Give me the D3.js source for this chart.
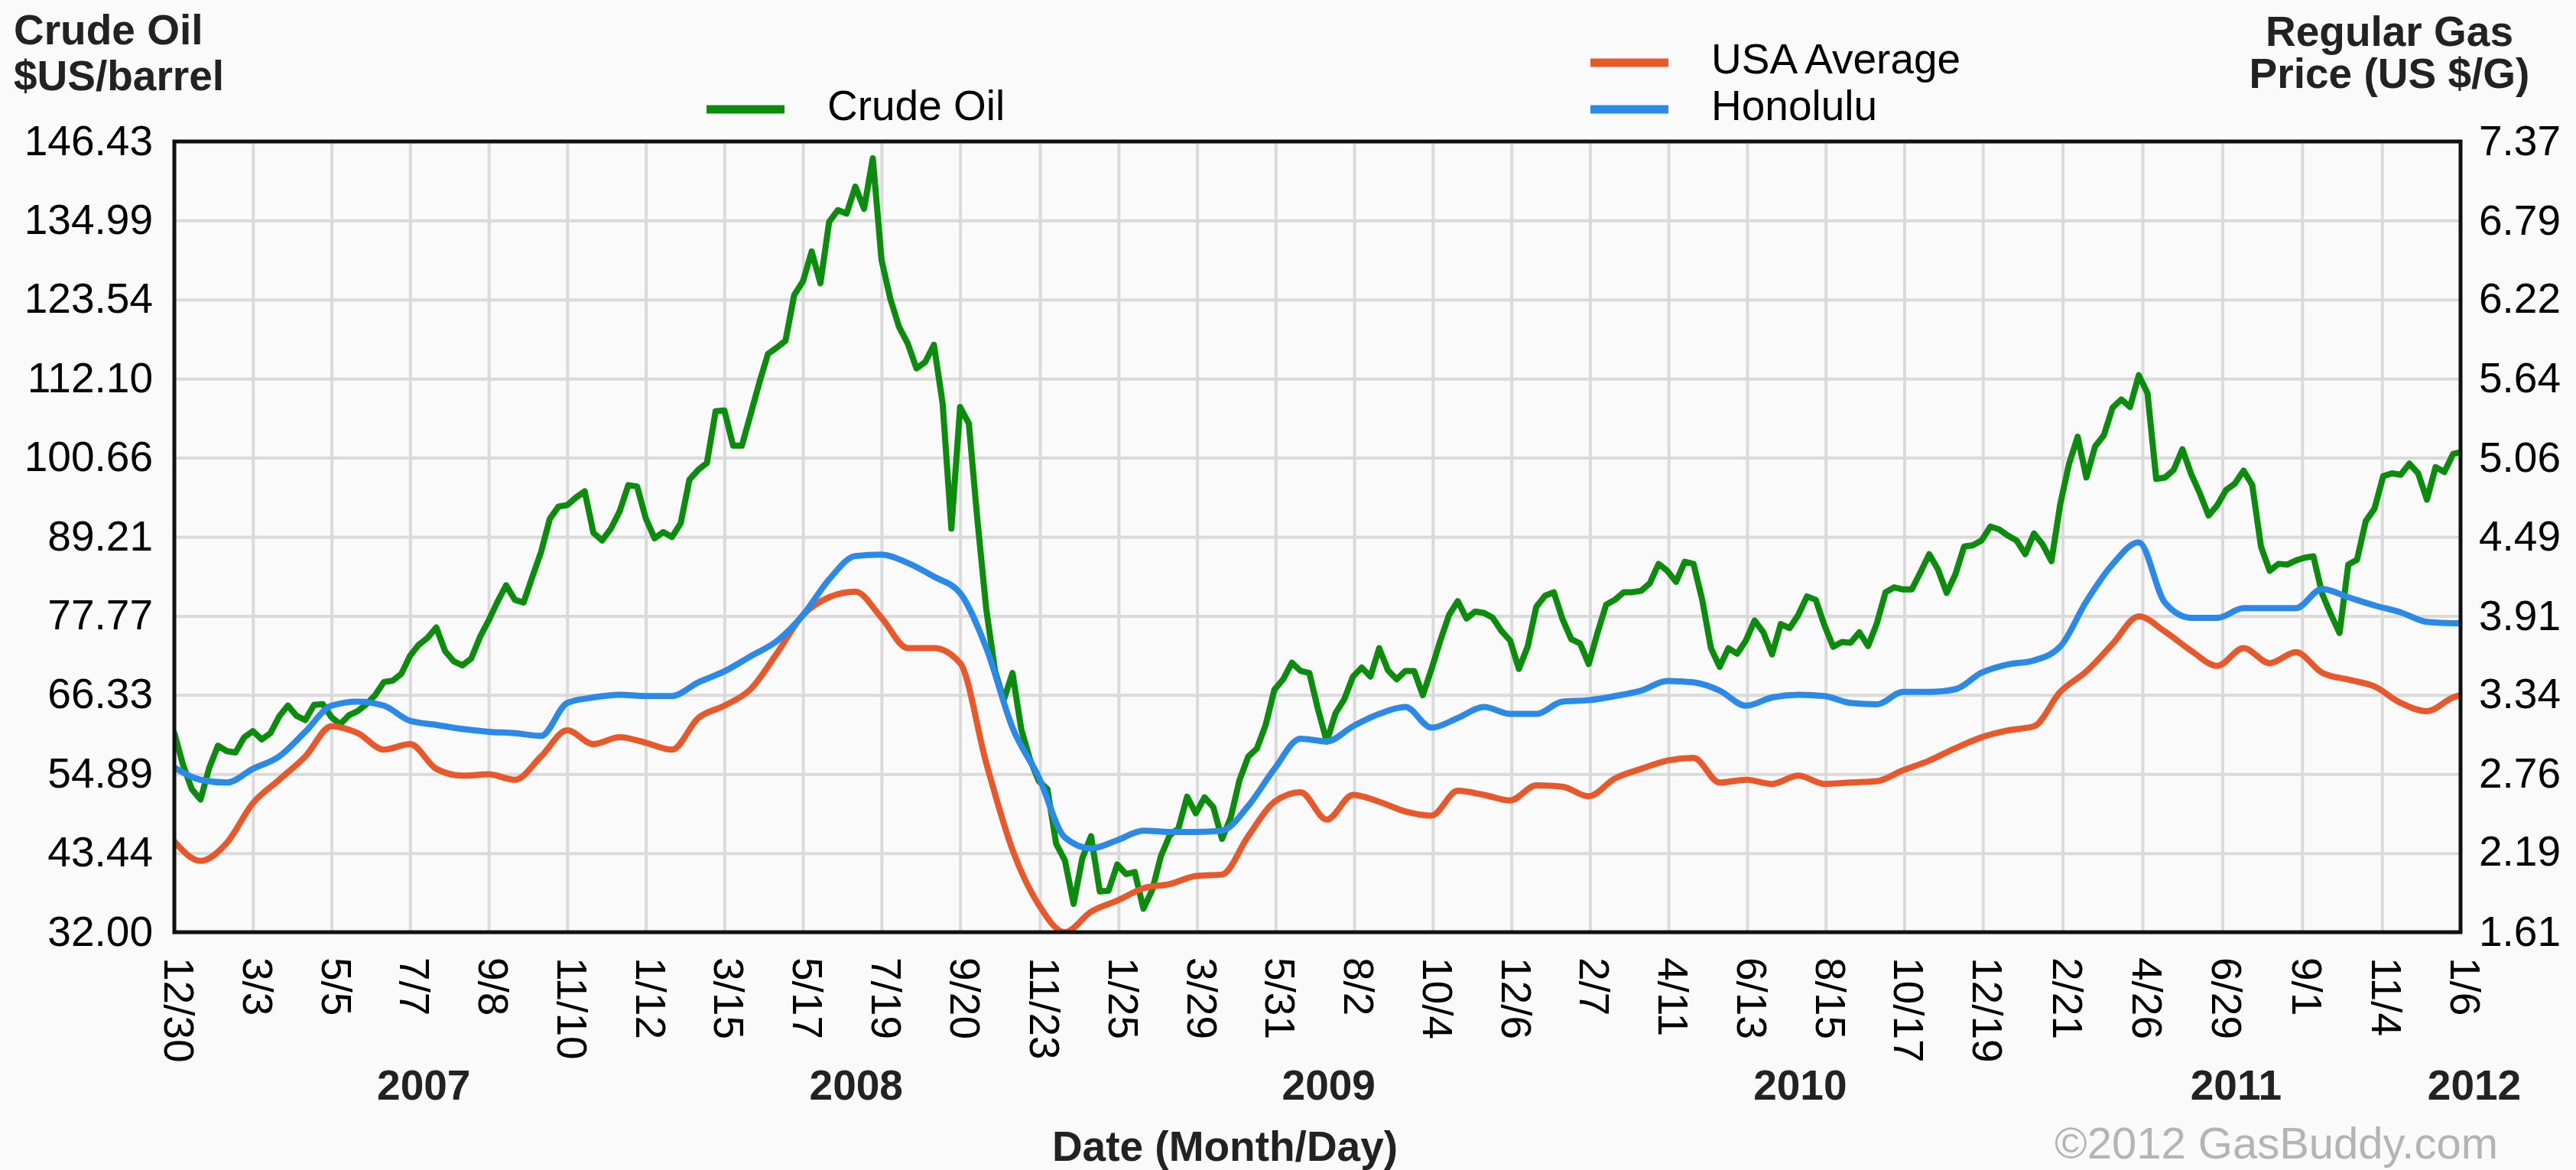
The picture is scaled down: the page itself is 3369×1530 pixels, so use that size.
<!DOCTYPE html>
<html>
<head>
<meta charset="utf-8">
<script src="https://cdnjs.cloudflare.com/ajax/libs/d3/7.8.5/d3.min.js"></script>
<style>
  html, body { margin: 0; padding: 0; background: #fafafa; overflow: hidden; }
  svg { display: block; }
  text { font-family: "Liberation Sans", Arial, sans-serif; }
</style>
</head>
<body>
<div id="chart"></div>
<script>
var outerWidth  = 3369;
var outerHeight = 1530;
var margin = { left: 228, top: 185, right: 151, bottom: 311 };

var innerWidth  = outerWidth  - margin.left - margin.right;
var innerHeight = outerHeight - margin.top  - margin.bottom;

// x axis ticks (every 9 weeks) and year labels
var tickDates = ["2006-12-30","2007-03-03","2007-05-05","2007-07-07","2007-09-08","2007-11-10",
  "2008-01-12","2008-03-15","2008-05-17","2008-07-19","2008-09-20","2008-11-23",
  "2009-01-25","2009-03-29","2009-05-31","2009-08-02","2009-10-04","2009-12-06",
  "2010-02-07","2010-04-11","2010-06-13","2010-08-15","2010-10-17","2010-12-19",
  "2011-02-21","2011-04-26","2011-06-29","2011-09-01","2011-11-04","2012-01-06"];
var yearLabels = ["2007","2008","2009","2010","2011","2012"];

var crudeTickLabels = ["32.00","43.44","54.89","66.33","77.77","89.21","100.66","112.10","123.54","134.99","146.43"];
var gasTickLabels   = ["1.61","2.19","2.76","3.34","3.91","4.49","5.06","5.64","6.22","6.79","7.37"];

var seriesNames = ["Crude Oil", "USA Average", "Honolulu"];

// crude oil, weekly from 12/30/2006
var crudePrices = [
  60.8, 56.2, 52.7, 51.2, 55.8, 59.0, 58.2, 58.0, 60.2, 61.1,
  59.9, 60.8, 63.2, 64.8, 63.3, 62.7, 64.9, 65.0, 63.1, 62.1,
  63.4, 64.0, 65.0, 66.3, 68.2, 68.4, 69.4, 72.0, 73.6, 74.6,
  76.1, 72.7, 71.2, 70.6, 71.6, 74.7, 77.1, 79.8, 82.2, 80.1,
  79.7, 83.4, 87.0, 91.8, 93.6, 93.8, 94.9, 95.8, 89.8, 88.7,
  90.4, 92.9, 96.7, 96.5, 91.9, 89.0, 89.9, 89.2, 91.2, 97.5,
  98.9, 99.9, 107.4, 107.5, 102.4, 102.4, 106.9, 111.5, 115.7, 116.6,
  117.6, 124.2, 126.2, 130.5, 125.9, 134.8, 136.5, 136.0, 139.9, 136.7,
  144.0, 129.3, 123.7, 119.6, 117.2, 113.6, 114.5, 117.0, 108.5, 90.4,
  108.0, 105.6, 91.4, 78.7, 69.8, 65.6, 69.5, 61.4, 57.0, 53.9,
  52.7, 44.8, 42.4, 36.1, 42.7, 45.9, 37.9, 38.0, 41.8, 40.4,
  40.7, 35.4, 38.1, 43.0, 46.0, 47.0, 51.6, 49.2, 51.5, 50.1,
  45.5, 48.6, 54.0, 57.4, 58.6, 62.0, 67.1, 68.6, 71.0, 69.8,
  69.5, 64.2, 59.6, 63.7, 65.7, 69.0, 70.3, 69.0, 73.1, 69.9,
  68.6, 69.8, 69.8, 66.3, 70.1, 74.2, 77.9, 79.9, 77.4, 78.4,
  78.2, 77.5, 75.6, 74.2, 70.1, 73.3, 79.1, 80.7, 81.2, 77.3,
  74.4, 73.8, 70.8, 75.3, 79.4, 80.1, 81.2, 81.2, 81.4, 82.5,
  85.3, 84.3, 82.7, 85.6, 85.3, 80.1, 73.1, 70.4, 73.1, 72.3,
  74.2, 77.1, 75.4, 72.2, 76.6, 76.0, 77.9, 80.6, 80.1, 76.4,
  73.3, 74.0, 73.9, 75.4, 73.4, 76.7, 81.2, 81.9, 81.6, 81.6,
  84.1, 86.7, 84.5, 81.1, 83.8, 87.8, 88.0, 88.7, 90.7, 90.3,
  89.4, 88.7, 86.7, 89.7, 88.1, 85.7, 93.9, 99.7, 103.7, 97.8,
  102.3, 103.9, 107.9, 109.1, 108.0, 112.6, 110.0, 97.6, 97.8, 98.9,
  101.9, 98.3, 95.5, 92.3, 93.8, 96.0, 96.9, 98.8, 96.7, 87.8,
  84.3, 85.3, 85.2, 85.8, 86.2, 86.4, 81.0, 78.0, 75.3, 85.2,
  85.9, 91.5, 93.3, 98.0, 98.4, 98.2, 99.8, 98.4, 94.6, 99.3,
  98.6, 101.2, 101.5
];

// regular gas, every 3 weeks from 12/30/2006
var usaPrices = [
  2.27, 2.13, 2.26, 2.55, 2.72, 2.89, 3.11, 3.06, 2.94, 2.98,
  2.80, 2.75, 2.76, 2.72, 2.89, 3.08, 2.98, 3.03, 2.99, 2.94,
  3.17, 3.26, 3.38, 3.64, 3.92, 4.05, 4.09, 3.90, 3.68, 3.68,
  3.57, 2.84, 2.21, 1.81, 1.61, 1.76, 1.84, 1.93, 1.96, 2.02,
  2.03, 2.31, 2.56, 2.63, 2.43, 2.61, 2.56, 2.49, 2.46, 2.64,
  2.61, 2.57, 2.68, 2.67, 2.60, 2.73, 2.80, 2.86, 2.88, 2.70,
  2.72, 2.69, 2.75, 2.69, 2.70, 2.71, 2.79, 2.86, 2.95, 3.03,
  3.08, 3.11, 3.36, 3.51, 3.71, 3.91, 3.80, 3.66, 3.55, 3.68,
  3.57, 3.65, 3.50, 3.45, 3.40, 3.28, 3.22, 3.32, 3.36
];
var honoluluPrices = [
  2.81, 2.72, 2.70, 2.80, 2.89, 3.07, 3.26, 3.29, 3.26, 3.15,
  3.12, 3.09, 3.07, 3.06, 3.04, 3.28, 3.32, 3.34, 3.33, 3.33,
  3.43, 3.51, 3.62, 3.73, 3.92, 4.18, 4.35, 4.36, 4.30, 4.20,
  4.08, 3.68, 3.10, 2.74, 2.30, 2.22, 2.28, 2.35, 2.34, 2.34,
  2.35, 2.53, 2.80, 3.02, 3.00, 3.11, 3.20, 3.25, 3.10, 3.17,
  3.25, 3.20, 3.20, 3.29, 3.30, 3.33, 3.37, 3.44, 3.43, 3.37,
  3.26, 3.32, 3.34, 3.33, 3.28, 3.27, 3.36, 3.36, 3.38, 3.50,
  3.56, 3.59, 3.69, 4.02, 4.29, 4.45, 4.01, 3.90, 3.90, 3.97,
  3.97, 3.97, 4.11, 4.05, 3.99, 3.94, 3.87, 3.86, 3.87
];

var colors = { crude: "#0c8c0c", usa: "#e8582b", honolulu: "#2b89e8" };
var fontSize = 55;
var fontFamily = "'Liberation Sans', Arial, sans-serif";

var parseDate = d3.utcParse("%Y-%m-%d");
var startDate = parseDate("2006-12-30");

function series(values, stepDays) {
  return values.map(function (v, i) {
    return { date: d3.utcDay.offset(startDate, stepDays * i), value: v };
  });
}
var crudeData    = series(crudePrices, 7);
var usaData      = series(usaPrices, 21);
var honoluluData = series(honoluluPrices, 21);

var ticks = tickDates.map(parseDate);

var xScale = d3.scaleUtc()
  .domain([ticks[0], ticks[ticks.length - 1]])
  .range([0, innerWidth]);
var yCrude = d3.scaleLinear()
  .domain([+crudeTickLabels[0], +crudeTickLabels[crudeTickLabels.length - 1]])
  .range([innerHeight, 0]);
var yGas = d3.scaleLinear()
  .domain([+gasTickLabels[0], +gasTickLabels[gasTickLabels.length - 1]])
  .range([innerHeight, 0]);

var svg = d3.select("#chart").append("svg")
  .attr("width",  outerWidth)
  .attr("height", outerHeight)
  .attr("font-family", fontFamily)
  .style("background", "#fafafa");

var g = svg.append("g")
  .attr("transform", "translate(" + margin.left + "," + margin.top + ")");

// grid
g.append("g")
  .attr("class", "grid")
  .call(d3.axisLeft(yCrude).tickValues(crudeTickLabels.map(Number)).tickSize(-innerWidth).tickFormat(""));
g.append("g")
  .attr("class", "grid")
  .attr("transform", "translate(0," + innerHeight + ")")
  .call(d3.axisBottom(xScale).tickValues(ticks).tickSize(-innerHeight).tickFormat(""));
g.selectAll(".grid .domain").remove();
g.selectAll(".grid text").remove();
g.selectAll(".grid line").attr("stroke", "#dadada").attr("stroke-width", 4);

// lines
g.append("clipPath").attr("id", "plot-clip")
  .append("rect").attr("width", innerWidth).attr("height", innerHeight);

var crudeLine = d3.line()
  .x(function (d) { return xScale(d.date); })
  .y(function (d) { return yCrude(d.value); });
var gasLine = d3.line()
  .curve(d3.curveMonotoneX)
  .x(function (d) { return xScale(d.date); })
  .y(function (d) { return yGas(d.value); });

var lines = g.append("g").attr("clip-path", "url(#plot-clip)");
[[crudeData, crudeLine, colors.crude],
 [usaData, gasLine, colors.usa],
 [honoluluData, gasLine, colors.honolulu]].forEach(function (s) {
  lines.append("path")
    .datum(s[0])
    .attr("d", s[1])
    .attr("fill", "none")
    .attr("stroke", s[2])
    .attr("stroke-width", 8)
    .attr("stroke-linejoin", "round")
    .attr("stroke-linecap", "round");
});

// frame
g.append("rect")
  .attr("width", innerWidth)
  .attr("height", innerHeight)
  .attr("fill", "none")
  .attr("stroke", "#111")
  .attr("stroke-width", 5);

// y tick labels
g.append("g").selectAll("text")
  .data(crudeTickLabels)
  .enter().append("text")
    .attr("x", -28)
    .attr("y", function (d) { return yCrude(+d); })
    .attr("dy", "0.32em")
    .attr("text-anchor", "end")
    .attr("font-size", fontSize)
    .attr("fill", "#000")
    .text(function (d) { return d; });

g.append("g").selectAll("text")
  .data(gasTickLabels)
  .enter().append("text")
    .attr("x", innerWidth + 24)
    .attr("y", function (d) { return yGas(+d); })
    .attr("dy", "0.32em")
    .attr("text-anchor", "start")
    .attr("font-size", fontSize)
    .attr("fill", "#000")
    .text(function (d) { return d; });

// x tick labels, turned to read downwards
var fmt = d3.utcFormat("%-m/%-d");
g.append("g").selectAll("text")
  .data(ticks)
  .enter().append("text")
    .attr("transform", function (d) {
      return "translate(" + xScale(d) + "," + (innerHeight + 33) + ") rotate(90)";
    })
    .attr("y", 13)
    .attr("text-anchor", "start")
    .attr("font-size", fontSize)
    .attr("fill", "#000")
    .text(fmt);

// year labels centred under their ticks
yearLabels.forEach(function (year) {
  var xs = ticks.filter(function (t) { return t.getUTCFullYear() === +year; }).map(xScale);
  g.append("text")
    .attr("x", d3.mean(xs) + 18)
    .attr("y", 1438 - margin.top)
    .attr("text-anchor", "middle")
    .attr("font-weight", "bold")
    .attr("font-size", fontSize)
    .attr("fill", "#222")
    .text(year);
});

// titles
function label(x, y, txt, anchor, opts) {
  opts = opts || {};
  return svg.append("text")
    .attr("x", x).attr("y", y)
    .attr("text-anchor", anchor)
    .attr("font-size", opts.size || fontSize)
    .attr("font-weight", opts.bold ? "bold" : "normal")
    .attr("fill", opts.fill || "#111")
    .text(txt);
}
label(18, 58, "Crude Oil", "start", { bold: true, fill: "#222" });
label(18, 118, "$US/barrel", "start", { bold: true, fill: "#222" });
label(3125, 60, "Regular Gas", "middle", { bold: true, fill: "#222" });
label(3125, 115, "Price (US $/G)", "middle", { bold: true, fill: "#222" });
label(1602, 1518, "Date (Month/Day)", "middle", { bold: true, fill: "#222" });
label(3267, 1515, "\u00a92012 GasBuddy.com", "end", { size: 58, fill: "#b4b4b4" });

// legend
var legend = [
  { name: seriesNames[0], color: colors.crude,    x: 924,  y: 143 },
  { name: seriesNames[1], color: colors.usa,      x: 2080, y: 82 },
  { name: seriesNames[2], color: colors.honolulu, x: 2080, y: 143 }
];
legend.forEach(function (d) {
  svg.append("line")
    .attr("x1", d.x).attr("x2", d.x + 102)
    .attr("y1", d.y).attr("y2", d.y)
    .attr("stroke", d.color)
    .attr("stroke-width", 11);
  label(d.x + 158, d.y + 14, d.name, "start", { fill: "#000" });
});
</script>
</body>
</html>
